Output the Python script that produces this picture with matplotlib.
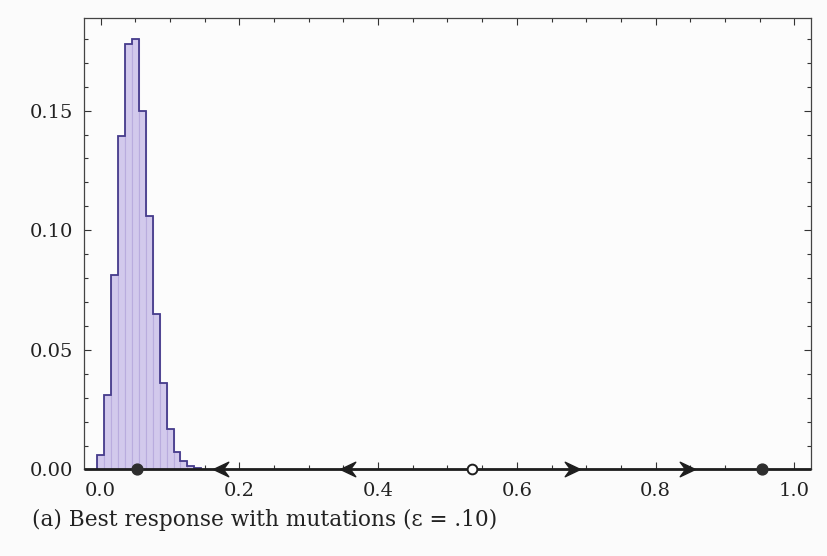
import numpy as np
import matplotlib
matplotlib.use("Agg")
import matplotlib.pyplot as plt
from matplotlib.path import Path
from matplotlib.ticker import MultipleLocator, FormatStrFormatter

# stationary distribution over population shares (bins of width 0.01)
share_centers = [0.00, 0.01, 0.02, 0.03, 0.04, 0.05, 0.06, 0.07,
                 0.08, 0.09, 0.10, 0.11, 0.12, 0.13, 0.14]
share_probs = [0.006, 0.031, 0.0815, 0.1395, 0.178, 0.180, 0.150, 0.106,
               0.065, 0.036, 0.017, 0.0075, 0.0035, 0.0015, 0.0005]

# phase line of the best-response dynamic
stable_points = [0.052, 0.953]
unstable_points = [0.535]
left_arrows = [0.162, 0.345]
right_arrows = [0.691, 0.857]

caption = "(a) Best response with mutations (\u03b5 = .10)"

plt.rcParams["font.family"] = ["DejaVu Serif"]

fig = plt.figure(figsize=(8.27, 5.56), dpi=100)
fig.patch.set_facecolor("#fbfbfb")
ax = fig.add_axes([0.1016, 0.1556, 0.879, 0.8115])
ax.set_facecolor("#fcfcfc")

bin_w = 0.01
edges = np.append(np.array(share_centers) - bin_w / 2, share_centers[-1] + bin_w / 2)
ax.bar(share_centers, share_probs, width=bin_w, color="#d2c9ec",
       edgecolor="#b9acde", linewidth=0.8, zorder=2)
ax.stairs(share_probs, edges, color="#463c8c", linewidth=1.3, zorder=3)

ax.set_xlim(-0.024, 1.024)
ax.set_ylim(0, 0.1886)

# thick phase line along y = 0
ax.plot([-0.024, 1.024], [0, 0], color="#1e1e1e", linewidth=2.0,
        solid_capstyle="butt", clip_on=False, zorder=5)

# barbed arrowheads, tip at the origin
right_head = Path([(0, 0), (-2.0, 0.95), (-1.3, 0), (-2.0, -0.95), (0, 0)],
                  [Path.MOVETO, Path.LINETO, Path.LINETO, Path.LINETO, Path.CLOSEPOLY])
left_head = Path([(0, 0), (2.0, 0.95), (1.3, 0), (2.0, -0.95), (0, 0)],
                 [Path.MOVETO, Path.LINETO, Path.LINETO, Path.LINETO, Path.CLOSEPOLY])
ax.plot(right_arrows, [0] * len(right_arrows), linestyle="none", marker=right_head,
        markersize=22, color="#1e1e1e", clip_on=False, zorder=6)
ax.plot(left_arrows, [0] * len(left_arrows), linestyle="none", marker=left_head,
        markersize=22, color="#1e1e1e", clip_on=False, zorder=6)

ax.plot(stable_points, [0] * len(stable_points), linestyle="none", marker="o",
        markersize=7.8, color="#2e2e2e", clip_on=False, zorder=7)
ax.plot(unstable_points, [0] * len(unstable_points), linestyle="none", marker="o",
        markersize=7, markerfacecolor="white", markeredgecolor="#1e1e1e",
        markeredgewidth=1.4, clip_on=False, zorder=7)

ax.xaxis.set_major_locator(MultipleLocator(0.2))
ax.xaxis.set_minor_locator(MultipleLocator(0.05))
ax.yaxis.set_major_locator(MultipleLocator(0.05))
ax.yaxis.set_minor_locator(MultipleLocator(0.01))
ax.xaxis.set_major_formatter(FormatStrFormatter("%.1f"))
ax.yaxis.set_major_formatter(FormatStrFormatter("%.2f"))
ax.tick_params(which="both", direction="in", top=True, right=True,
               color="#333333", width=0.8, labelsize=14, labelcolor="#222222")
ax.tick_params(which="major", length=5)
ax.tick_params(which="minor", length=3)
ax.tick_params(axis="x", pad=9)
ax.tick_params(axis="y", pad=8)
for sp in ax.spines.values():
    sp.set_color("#444444")
    sp.set_linewidth(0.9)

fig.text(0.0387, 0.065, caption, fontsize=15.6, color="#222222",
         ha="left", va="center")

fig.savefig("out.png", dpi=100, facecolor=fig.get_facecolor())
